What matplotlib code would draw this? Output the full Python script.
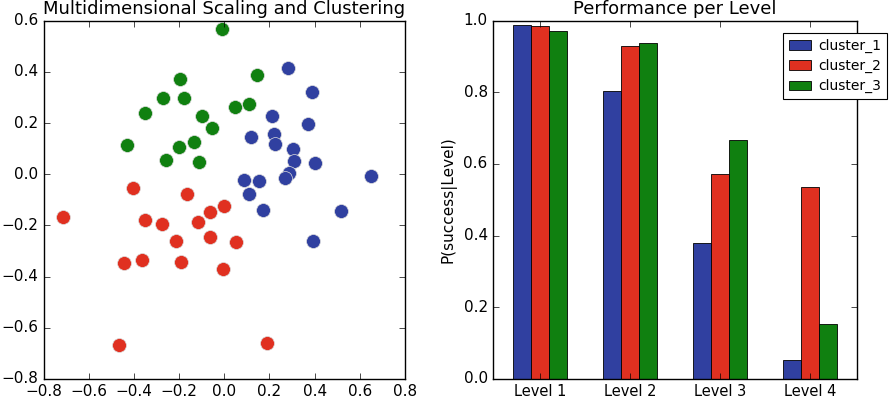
import numpy as np
import matplotlib
matplotlib.use('Agg')
import matplotlib.pyplot as plt

plt.style.use('classic')

# MDS coordinates per cluster
c1_x = [0.282, 0.387, 0.212, 0.370, 0.120, 0.221, 0.224, 0.302, 0.307, 0.403,
        0.286, 0.269, 0.085, 0.154, 0.648, 0.110, 0.170, 0.517, 0.392]
c1_y = [0.417, 0.320, 0.226, 0.196, 0.144, 0.157, 0.119, 0.099, 0.052, 0.043,
        0.004, -0.013, -0.021, -0.025, -0.008, -0.078, -0.139, -0.145, -0.263]
c2_x = [-0.406, -0.166, 0.000, -0.062, -0.713, -0.352, -0.276, -0.117, -0.213,
        -0.062, 0.052, -0.366, -0.446, -0.192, -0.008, -0.467, 0.188]
c2_y = [-0.055, -0.077, -0.124, -0.148, -0.169, -0.179, -0.195, -0.188, -0.263,
        -0.246, -0.265, -0.336, -0.349, -0.345, -0.369, -0.669, -0.661]
c3_x = [-0.012, -0.197, 0.144, -0.271, -0.178, -0.351, 0.049, 0.110, -0.101,
        -0.053, -0.430, -0.200, -0.136, -0.259, -0.113]
c3_y = [0.567, 0.374, 0.387, 0.297, 0.297, 0.239, 0.264, 0.273, 0.229,
        0.180, 0.114, 0.107, 0.127, 0.056, 0.046]

levels = ['Level 1', 'Level 2', 'Level 3', 'Level 4']
cluster_1 = [0.988, 0.803, 0.379, 0.052]
cluster_2 = [0.985, 0.930, 0.572, 0.535]
cluster_3 = [0.971, 0.937, 0.666, 0.153]

blue = '#3040a0'
red = '#e03020'
green = '#108010'

fig = plt.figure(figsize=(8.92, 4.0), dpi=100, facecolor='white')
ax1 = fig.add_axes([0.049, 0.053, 0.405, 0.895])
ax2 = fig.add_axes([0.553, 0.053, 0.408, 0.895])

ax1.scatter(c1_x, c1_y, s=100, c=blue, edgecolors='#dddddd', linewidths=0.5)
ax1.scatter(c2_x, c2_y, s=100, c=red, edgecolors='#dddddd', linewidths=0.5)
ax1.scatter(c3_x, c3_y, s=100, c=green, edgecolors='#dddddd', linewidths=0.5)
ax1.set_xlim(-0.8, 0.8)
ax1.set_ylim(-0.8, 0.6)
ax1.set_title('Multidimensional Scaling and Clustering', fontsize=13)
ax1.tick_params(labelsize=11)

x = np.arange(len(levels))
w = 0.2
ax2.bar(x - w, cluster_1, w, color=blue, edgecolor='black', linewidth=0.6, label='cluster_1')
ax2.bar(x, cluster_2, w, color=red, edgecolor='black', linewidth=0.6, label='cluster_2')
ax2.bar(x + w, cluster_3, w, color=green, edgecolor='black', linewidth=0.6, label='cluster_3')
ax2.set_xticks(x)
ax2.set_xticklabels(levels)
ax2.set_xlim(-0.52, 3.52)
ax2.set_ylim(0, 1.0)
ax2.set_ylabel('P(success|Level)', fontsize=11)
ax2.set_title('Performance per Level', fontsize=13)
ax2.tick_params(labelsize=11)
ax2.tick_params(axis='x', labelsize=10.5)
leg = ax2.legend(loc='upper left', bbox_to_anchor=(0.797, 0.966), fontsize=10,
                 borderaxespad=0, handlelength=1.6, handletextpad=0.5,
                 borderpad=0.4, labelspacing=0.45)
leg.get_frame().set_linewidth(0.8)

fig.savefig('out.png', dpi=100, facecolor='white')
